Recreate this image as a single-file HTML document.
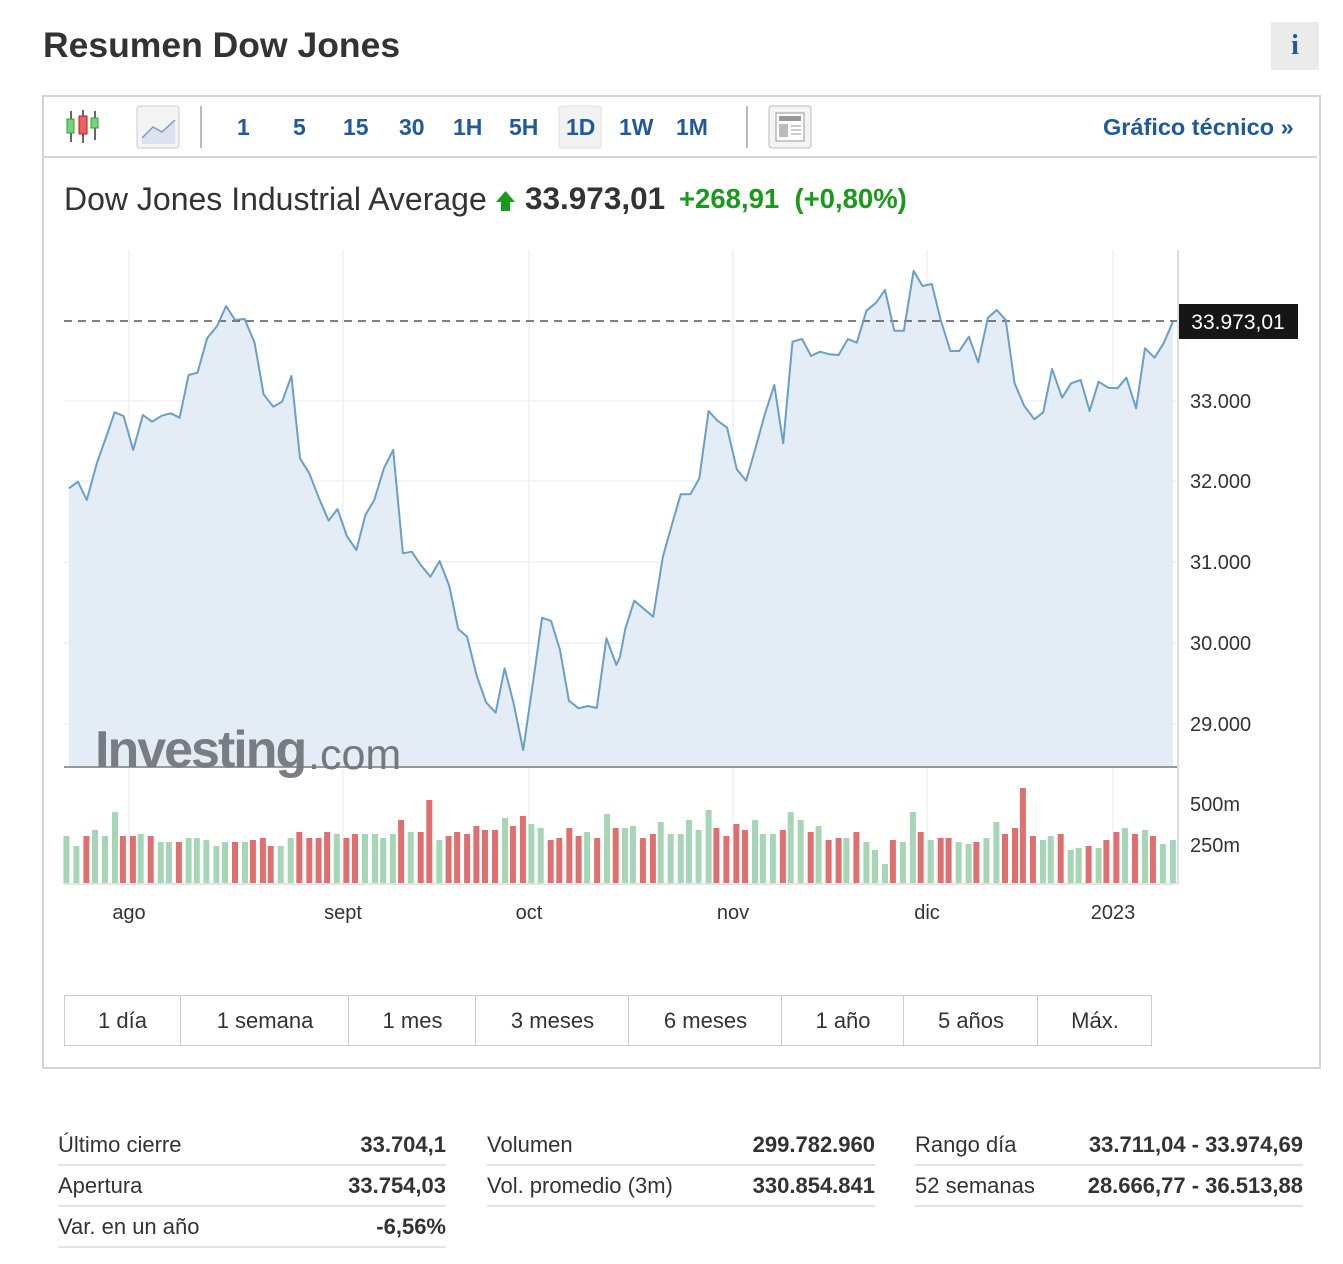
<!DOCTYPE html>
<html><head><meta charset="utf-8"><style>
body{margin:0;background:#fff;font-family:"Liberation Sans",sans-serif;color:#333;width:1343px;height:1264px;position:relative;overflow:hidden}
.a{position:absolute;white-space:nowrap}
.tb{position:absolute;top:114px;font-size:23px;font-weight:bold;color:#1e5a9c}
.row{position:absolute;font-size:22px;height:40px;border-bottom:2px solid #e3e3e3}
.row span{position:absolute;top:8px}
.row b{position:absolute;right:0;top:8px}
</style></head><body>
<div class="a" style="left:43px;top:25px;font-size:35.5px;font-weight:bold;color:#333">Resumen Dow Jones</div>
<div class="a" style="left:1271px;top:22px;width:48px;height:48px;background:#ebebeb;color:#1e5a9c;font:bold 28px 'Liberation Serif',serif;text-align:center;line-height:48px">i</div>
<div class="a" style="left:42px;top:95px;width:1275px;height:970px;border:2px solid #d5d5d5"></div>
<div class="a" style="left:44px;top:156px;width:1273px;height:2px;background:#d5d5d5"></div>
<svg class="a" style="left:0;top:0" width="1343" height="1264">
<g stroke="#333" stroke-width="1.5"><line x1="71" y1="111" x2="71" y2="142"/><line x1="83" y1="110" x2="83" y2="143"/><line x1="95" y1="111" x2="95" y2="140"/></g>
<rect x="67" y="119" width="7" height="14" fill="#7cd07c" stroke="#2a2"/><rect x="79" y="116" width="8" height="18" fill="#f06060" stroke="#a22"/><rect x="91" y="118" width="7" height="10" fill="#7cd07c" stroke="#2a2"/>
<rect x="137" y="106" width="42" height="42" rx="3" fill="#f4f4f4" stroke="#ccc"/>
<path d="M142 138 L153 127 L162 132 L175 120 L175 144 L142 144Z" fill="#dbe3f0"/><path d="M142 138 L153 127 L162 132 L175 120" stroke="#7d9bc8" fill="none" stroke-width="1.5"/>
<line x1="201" y1="106" x2="201" y2="148" stroke="#bbb" stroke-width="2"/>
<rect x="559" y="106" width="42" height="42" rx="3" fill="#f2f2f2" stroke="#ddd"/>
<line x1="747" y1="106" x2="747" y2="148" stroke="#bbb" stroke-width="2"/>
<rect x="769" y="106" width="42" height="42" rx="3" fill="#f4f4f4" stroke="#bbb"/>
<rect x="776" y="113" width="28" height="28" fill="#fff" stroke="#999"/><rect x="779" y="116" width="22" height="5" fill="#999"/><rect x="779" y="124" width="9" height="13" fill="#bbb"/><g stroke="#999"><line x1="791" y1="126" x2="801" y2="126"/><line x1="791" y1="130" x2="801" y2="130"/><line x1="791" y1="134" x2="801" y2="134"/></g>
<path d="M501 211 L510 211 L510 202 L515 202 L505.5 191 L496 202 L501 202Z" fill="#1a9a1a"/>
<g id="grid" stroke="#eef0f3" stroke-width="1.5"></g>
<path id="area" fill="#e4edf6"/>
<line x1="64" y1="321" x2="1177" y2="321" stroke="#333" stroke-dasharray="8,6" stroke-width="1.2"/>
<path id="line" fill="none" stroke="#6a9fc8" stroke-width="2" stroke-linejoin="round"/>
<line x1="1178" y1="250" x2="1178" y2="884" stroke="#ddd" stroke-width="2"/>
<line x1="64" y1="767" x2="1177" y2="767" stroke="#999" stroke-width="2"/>
<g id="vol"></g>
<line x1="64" y1="884" x2="1177" y2="884" stroke="#e4e4e4" stroke-width="2"/>
<rect x="1179" y="304" width="119" height="35" fill="#161616"/>
<text x="1238" y="329" fill="#fff" font-size="21" text-anchor="middle" font-family="Liberation Sans">33.973,01</text>
<text x="95" y="767" font-size="52" font-weight="bold" fill="#74777c" font-family="Liberation Sans" letter-spacing="-2" opacity="0.95">Investing</text>
<text x="308" y="769" font-size="43" fill="#74777c" font-family="Liberation Sans">.com</text>
<g font-size="20" fill="#333" font-family="Liberation Sans">
<text x="1190" y="408">33.000</text><text x="1190" y="488">32.000</text><text x="1190" y="569">31.000</text><text x="1190" y="650">30.000</text><text x="1190" y="731">29.000</text>
<text x="1190" y="811">500m</text><text x="1190" y="852">250m</text>
<g text-anchor="middle"><text x="129" y="919">ago</text><text x="343" y="919">sept</text><text x="529" y="919">oct</text><text x="733" y="919">nov</text><text x="927" y="919">dic</text><text x="1113" y="919">2023</text></g>
</g>
</svg>
<div class="tb" style="left:237px">1</div><div class="tb" style="left:293px">5</div><div class="tb" style="left:343px">15</div><div class="tb" style="left:399px">30</div><div class="tb" style="left:453px">1H</div><div class="tb" style="left:509px">5H</div><div class="tb" style="left:566px">1D</div><div class="tb" style="left:619px">1W</div><div class="tb" style="left:676px">1M</div>
<div class="tb" style="left:1103px;font-size:23.5px">Gráfico técnico »</div>
<div class="a" style="left:64px;top:181px;font-size:32px;color:#333">Dow Jones Industrial Average</div>
<div class="a" style="left:525px;top:180px;font-size:31.5px;font-weight:bold;color:#333">33.973,01</div>
<div class="a" style="left:679px;top:183px;font-size:27.5px;font-weight:bold;color:#1a9a1a">+268,91 &nbsp;(+0,80%)</div>
<div class="a" style="left:64px;top:995px;width:1086px;height:49px;border:1px solid #ccc;font-size:22px;color:#333">
<span class="a" style="left:0;width:115px;text-align:center;height:49px;line-height:50px">1 día</span>
<span class="a" style="left:115px;width:168px;text-align:center;border-left:1px solid #ccc;height:49px;line-height:50px">1 semana</span>
<span class="a" style="left:283px;width:127px;text-align:center;border-left:1px solid #ccc;height:49px;line-height:50px">1 mes</span>
<span class="a" style="left:410px;width:153px;text-align:center;border-left:1px solid #ccc;height:49px;line-height:50px">3 meses</span>
<span class="a" style="left:563px;width:153px;text-align:center;border-left:1px solid #ccc;height:49px;line-height:50px">6 meses</span>
<span class="a" style="left:716px;width:122px;text-align:center;border-left:1px solid #ccc;height:49px;line-height:50px">1 año</span>
<span class="a" style="left:838px;width:134px;text-align:center;border-left:1px solid #ccc;height:49px;line-height:50px">5 años</span>
<span class="a" style="left:972px;width:114px;text-align:center;border-left:1px solid #ccc;height:49px;line-height:50px">Máx.</span>
</div>
<div class="row" style="left:58px;top:1124px;width:388px"><span>Último cierre</span><b>33.704,1</b></div>
<div class="row" style="left:58px;top:1165px;width:388px"><span>Apertura</span><b>33.754,03</b></div>
<div class="row" style="left:58px;top:1206px;width:388px"><span>Var. en un año</span><b>-6,56%</b></div>
<div class="row" style="left:487px;top:1124px;width:388px"><span>Volumen</span><b>299.782.960</b></div>
<div class="row" style="left:487px;top:1165px;width:388px"><span>Vol. promedio (3m)</span><b>330.854.841</b></div>
<div class="row" style="left:915px;top:1124px;width:388px"><span>Rango día</span><b>33.711,04 - 33.974,69</b></div>
<div class="row" style="left:915px;top:1165px;width:388px"><span>52 semanas</span><b>28.666,77 - 36.513,88</b></div>
<script>
var z1=[25,715,50,695,75,750,103,640,128,565,153,487,178,498,205,600,232,495,258,515,285,497,310,490,335,503,360,375,385,368,412,265,440,228,465,168,490,210,517,207,545,278,570,433,597,470,622,455,648,378,672,625,698,670,724,742,752,812,777,777,803,858,830,900,855,795,880,750,907,655,933,600,960,910,985,905,1010,945,1037,980,1063,933,1090,1008,1115,1137,1140,1160,1167,1278,1193,1357,1220,1388,1245,1255,1270,1360,1297,1500,1323,1308,1350,1103,1375,1113,1400,1200,1425,1352,1452,1375,1478,1368,1503,1374,1530,1165,1558,1245];
var z2=[0,1220,15,1135,40,1052,93,1100,120,920,145,825,170,733,197,733,222,685,248,483,273,512,300,533,327,658,353,692,378,600,405,495,432,405,457,580,483,275,510,267,535,318,560,305,587,313,612,315,638,267,663,278,690,182,717,158,742,120,768,242,795,242,822,62,847,108,873,102,898,210,925,303,950,303,977,260,1003,337,1030,203,1055,180,1080,210,1105,400,1132,468,1160,508,1185,487,1210,357,1238,443,1263,400,1290,390,1315,483,1340,395,1367,413,1393,415,1418,383,1445,475,1470,295,1497,323,1522,280,1548,215];
var p=[];
for(var i=0;i<z1.length;i+=2)p.push([60+z1[i]/2.8,250+z1[i+1]/3]);
for(var i=0;i<z2.length;i+=2)p.push([620+z2[i]/2.8,250+z2[i+1]/3]);
var d=p.map(function(q,i){return (i?'L':'M')+q[0].toFixed(1)+' '+q[1].toFixed(1)}).join(' ');
document.getElementById('line').setAttribute('d',d);
document.getElementById('area').setAttribute('d',d+' L'+p[p.length-1][0].toFixed(1)+' 767 L'+p[0][0].toFixed(1)+' 767Z');
var g='';[129,343,529,733,927,1113].forEach(function(x){g+='<line x1="'+x+'" y1="250" x2="'+x+'" y2="884"/>'});
[401,481,562,643,724].forEach(function(y){g+='<line x1="64" y1="'+y+'" x2="1177" y2="'+y+'"/>'});
document.getElementById('grid').innerHTML=g;
var v1="18g168 46g198 74r168 98g150 126g168 154g96 176r168 204r168 226g162 254r168 282g186 305g186 333r186 360g174 383g174 410g180 438g198 462g186 490r186 518g186 540r180 568r174 590r198 618g198 646g174 670r156 698r174 724r174 748r156 775g162 802r174 826r162 854g162 882g162 905g174 932g162 955r120 982g156 1010r156 1034r60 1062g180 1088r168 1112r156 1140r162 1166r138 1190r150 1218r150 1246g114 1268r138 1296r108 1320g132 1346g144 1374r180 1398r174 1426r144 1452r168 1476g156 1504r174 1532g102 1556r144";
var v2="14g144 36g138 64r174 92r162 114g126 142g162 170g162 193g120 220g150 248g90 270r144 298r168 326r132 350r150 378g120 400g162 428g162 456r150 478g96 506g120 534r156 556g138 584r180 612r174 634g174 662r156 690g186 714g210 742g252 764r180 792g186 820g96 842r156 870g180 898r174 920r174 948g186 976g192 998r186 1026g174 1054g126 1078r162 1106r144 1128r24 1156r168 1184g180 1206g168 1234r162 1262g210 1284g204 1312r198 1340g204 1362r180 1390r156 1414g144 1442r162 1470g150 1492r168 1520g192 1548g180";
var vs='';
function bars(s,ox){s.split(' ').forEach(function(t){var m=t.match(/(\d+)([gr])(\d+)/);var x=ox+(+m[1])/2.8;var y=780+(+m[3])/3;vs+='<rect x="'+(x-3).toFixed(1)+'" y="'+y.toFixed(1)+'" width="6" height="'+(884-y).toFixed(1)+'" fill="'+(m[2]=='g'?'#a6d6b6':'#e07070')+'"/>';});}
bars(v1,60);bars(v2,620);
document.getElementById('vol').innerHTML=vs;
</script>
</body></html>
